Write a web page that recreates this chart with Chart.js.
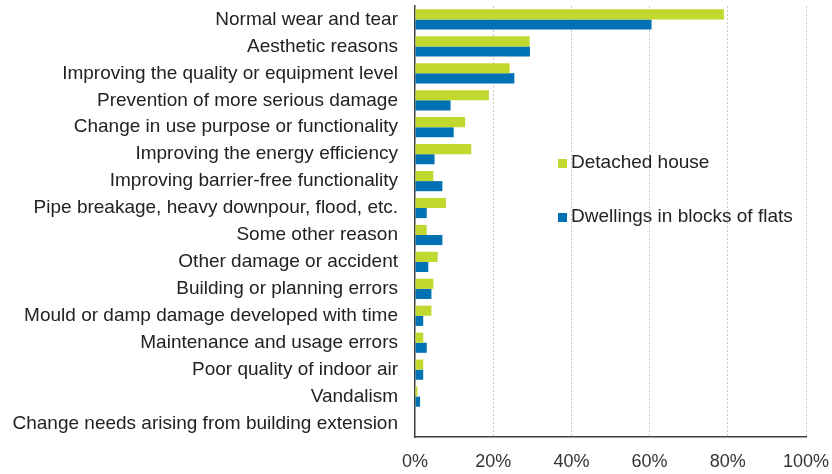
<!DOCTYPE html>
<html>
<head>
<meta charset="utf-8">
<script src="https://cdn.jsdelivr.net/npm/chart.js@4/dist/chart.umd.min.js"></script>
<style>
  html, body { margin: 0; padding: 0; background: #fff; }
  #wrap { width: 832px; height: 474px; }
</style>
</head>
<body>
<div id="wrap"><canvas id="chart" width="832" height="474"></canvas></div>
<script>
// Reasons for renovation, share of renovations (%)
const reasons = [
  "Normal wear and tear",
  "Aesthetic reasons",
  "Improving the quality or equipment level",
  "Prevention of more serious damage",
  "Change in use purpose or functionality",
  "Improving the energy efficiency",
  "Improving barrier-free functionality",
  "Pipe breakage, heavy downpour, flood, etc.",
  "Some other reason",
  "Other damage or accident",
  "Building or planning errors",
  "Mould or damp damage developed with time",
  "Maintenance and usage errors",
  "Poor quality of indoor air",
  "Vandalism",
  "Change needs arising from building extension"
];
const detachedHouse = [79, 29.3, 24.2, 18.9, 12.8, 14.4, 4.7, 7.9, 3.0, 5.8, 4.7, 4.2, 2.1, 2.1, 0.6, 0];
const blocksOfFlats = [60.5, 29.4, 25.4, 9.1, 9.9, 5.0, 7.0, 3.0, 7.0, 3.4, 4.2, 2.1, 3.0, 2.1, 1.3, 0];
const seriesNames = ["Detached house", "Dwellings in blocks of flats"];
const xMax = 100;
const xStep = 20;

const green = '#c1d82f';
const blue = '#0071b3';
const family = 'Liberation Sans, Arial, sans-serif';
const labelFont = { family: family, size: 19 };
const tickFont = { family: family, size: 18 };

// legend sits inside the plot, to the right of the short bars
const insideLegend = {
  id: 'insideLegend',
  afterDraw(chart) {
    const ctx = chart.ctx;
    const left = chart.chartArea.left + 143;
    const rows = [163, 217];
    const colors = [green, blue];
    ctx.save();
    ctx.font = labelFont.size + 'px ' + family;
    ctx.textBaseline = 'middle';
    ctx.textAlign = 'left';
    seriesNames.forEach((name, i) => {
      ctx.fillStyle = colors[i];
      ctx.fillRect(left, rows[i] - 4, 9, 9);
      ctx.fillStyle = '#222';
      ctx.fillText(name, left + 13, rows[i]);
    });
    ctx.restore();
  }
};

new Chart(document.getElementById('chart'), {
  type: 'bar',
  data: {
    labels: reasons,
    datasets: [
      { label: seriesNames[0], data: detachedHouse, backgroundColor: green, borderWidth: 0 },
      { label: seriesNames[1], data: blocksOfFlats, backgroundColor: blue, borderWidth: 0 }
    ]
  },
  options: {
    indexAxis: 'y',
    responsive: false,
    animation: false,
    devicePixelRatio: 1,
    layout: { padding: { top: 6, right: 26, left: 0, bottom: 0 } },
    datasets: { bar: { categoryPercentage: 0.75, barPercentage: 1.0 } },
    plugins: { legend: { display: false }, tooltip: { enabled: false } },
    scales: {
      x: {
        min: 0,
        max: xMax,
        ticks: {
          stepSize: xStep,
          color: '#333',
          font: tickFont,
          padding: 14,
          callback: v => v + '%'
        },
        grid: {
          drawTicks: false,
          color: c => c.tick && c.tick.value === 0 ? 'rgba(0,0,0,0)' : '#c8c8c8'
        },
        border: { display: true, color: '#404040', width: 1.5, dash: [2, 2] },
        afterFit(scale) {
          scale.height = 37;
          scale.paddingLeft = 0;
          scale.paddingRight = 0;
        }
      },
      y: {
        grid: { display: false, drawTicks: false },
        border: { display: true, color: '#404040', width: 1.5 },
        ticks: { color: '#222', font: labelFont, padding: 17, autoSkip: false },
        afterFit(scale) {
          scale.width = 415;
          scale.paddingTop = 0;
          scale.paddingBottom = 0;
        }
      }
    }
  },
  plugins: [insideLegend]
});
</script>
</body>
</html>
